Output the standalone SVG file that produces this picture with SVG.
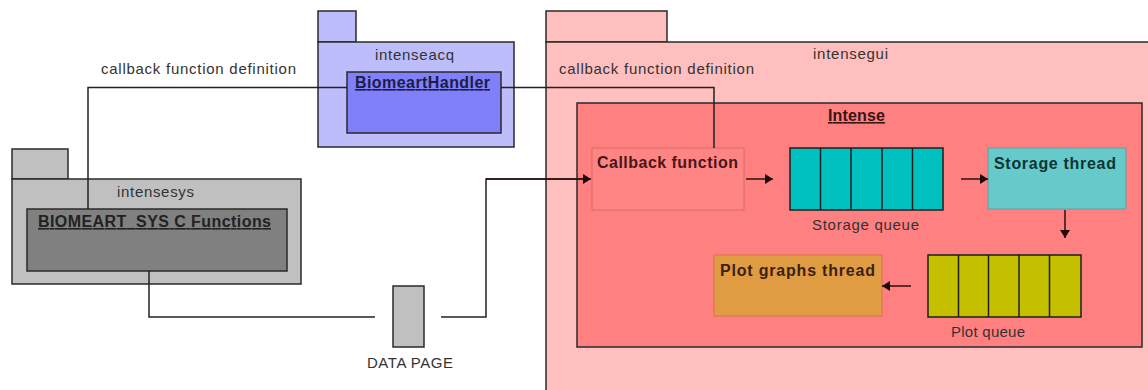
<svg xmlns="http://www.w3.org/2000/svg" width="1148" height="390" viewBox="0 0 1148 390">
  <style>
    .lbl { font-family: "Liberation Sans", Arial, sans-serif; font-size: 15px; fill: #333333; }
    .bold { font-family: "Liberation Sans", Arial, sans-serif; font-size: 16px; font-weight: bold; }
    .ul { text-decoration: underline; }
    .pkg { stroke: #2a2a2a; stroke-width: 1.5; }
    .wire { fill: none; stroke: #222222; stroke-width: 1.5; }
    .flow { fill: none; stroke: #2a0f0f; stroke-width: 1.5; marker-end: url(#head); }
    .cell { stroke: #1e1e1e; stroke-width: 1.5; }
  </style>
  <defs>
    <marker id="head" markerUnits="userSpaceOnUse" markerWidth="9" markerHeight="10" refX="8" refY="5" orient="auto">
      <path d="M0,0 L8,5 L0,10 Z" fill="#1e0a0a"/>
    </marker>
  </defs>

  <rect width="1148" height="390" fill="#ffffff"/>

  <!-- intensegui package (runs off the right and bottom edges) -->
  <g id="intensegui">
    <rect class="pkg" x="546" y="11" width="121" height="31" fill="#ffbfbf"/>
    <rect class="pkg" x="546" y="42" width="620" height="360" fill="#ffbfbf"/>
    <text class="lbl" x="813" y="59" textLength="75" lengthAdjust="spacing" fill="#3a2626">intensegui</text>
  </g>

  <!-- Intense class inside intensegui -->
  <g id="intense">
    <rect class="pkg" x="577" y="103" width="565" height="244" fill="#ff8080"/>
    <text class="bold ul" x="828" y="121" textLength="57" lengthAdjust="spacing" fill="#3a1414">Intense</text>
  </g>

  <!-- intenseacq package -->
  <g id="intenseacq">
    <rect class="pkg" x="318" y="11" width="38" height="31" fill="#bdbdfb"/>
    <rect class="pkg" x="318" y="42" width="196" height="105" fill="#bdbdfb"/>
    <text class="lbl" x="375" y="60" textLength="79" lengthAdjust="spacing" fill="#303048">intenseacq</text>
  </g>
  <g id="biomeart-handler">
    <rect class="pkg" x="347" y="72" width="154" height="61" fill="#8080f8" stroke="#1a1a40"/>
    <text class="bold ul" x="355" y="88" textLength="135" lengthAdjust="spacing" fill="#1c1c48">BiomeartHandler</text>
  </g>

  <!-- intensesys package -->
  <g id="intensesys">
    <rect class="pkg" x="12" y="149" width="56" height="30" fill="#c0c0c0"/>
    <rect class="pkg" x="12" y="179" width="289" height="105" fill="#c0c0c0"/>
    <text class="lbl" x="117" y="197" textLength="77" lengthAdjust="spacing" fill="#333333">intensesys</text>
  </g>
  <g id="biomeart-sys">
    <rect class="pkg" x="27" y="209" width="260" height="62" fill="#808080"/>
    <text class="bold ul" x="38" y="227" textLength="233" lengthAdjust="spacing" fill="#222222">BIOMEART_SYS C Functions</text>
  </g>

  <!-- shared data page -->
  <g id="data-page">
    <rect class="pkg" x="393" y="286" width="31" height="61" fill="#c0c0c0"/>
    <text class="lbl" x="367" y="368" textLength="86" lengthAdjust="spacing">DATA PAGE</text>
  </g>

  <!-- threads and queues inside Intense -->
  <g id="callback-function">
    <rect x="592" y="148" width="152" height="62" fill="#ff8585" stroke="#d86a6a" stroke-width="1"/>
    <text class="bold" x="597" y="168" textLength="141" lengthAdjust="spacing" fill="#4a1616">Callback function</text>
  </g>

  <g id="storage-queue">
    <rect class="cell" x="790" y="148" width="153" height="62" fill="#00c0c0"/>
    <path class="cell" d="M820.5,148 V210 M851,148 V210 M882,148 V210 M912.5,148 V210" fill="none"/>
    <text class="lbl" x="812" y="230" textLength="107" lengthAdjust="spacing" fill="#3a1a1a">Storage queue</text>
  </g>

  <g id="storage-thread">
    <rect x="988" y="148" width="138" height="61" fill="#66caca" stroke="#6a9a9a" stroke-width="1"/>
    <text class="bold" x="994" y="169" textLength="122" lengthAdjust="spacing" fill="#0f3434">Storage thread</text>
  </g>

  <g id="plot-queue">
    <rect class="cell" x="928" y="255" width="153" height="62" fill="#c4c000"/>
    <path class="cell" d="M958.5,255 V317 M988.5,255 V317 M1019,255 V317 M1049.5,255 V317" fill="none"/>
    <text class="lbl" x="951" y="337" textLength="74" lengthAdjust="spacing" fill="#5a1a1a">Plot queue</text>
  </g>

  <g id="plot-graphs-thread">
    <rect x="714" y="255" width="168" height="61" fill="#e09c42" stroke="#d8744a" stroke-width="1"/>
    <text class="bold" x="720" y="276" textLength="155" lengthAdjust="spacing" fill="#3a2210">Plot graphs thread</text>
  </g>

  <!-- connectors -->
  <g id="connectors">
    <polyline class="wire" points="88,209 88,87.5 347,87.5"/>
    <text class="lbl" x="101" y="74" textLength="195" lengthAdjust="spacing">callback function definition</text>

    <polyline class="wire" points="501,87.5 714,87.5 714,148"/>
    <text class="lbl" x="559" y="74" textLength="195" lengthAdjust="spacing" fill="#3a2a2a">callback function definition</text>

    <polyline class="wire" points="149,271 149,317 375,317"/>
    <polyline class="wire" points="441,317 486,317 486,179 583,179"/>
    <path class="flow" d="M486,179 H591"/>

    <path class="flow" d="M746,179 H773"/>
    <path class="flow" d="M961,179 H988"/>
    <path class="flow" d="M1065,210 V238"/>
    <path class="flow" d="M911,286 H882"/>
  </g>
</svg>
